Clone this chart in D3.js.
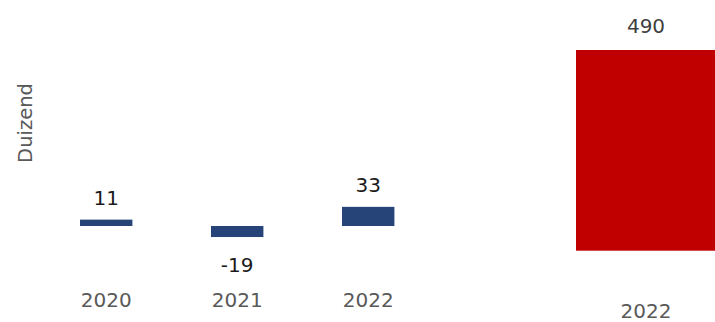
<!DOCTYPE html>
<html><head><meta charset="utf-8">
<script src="https://cdn.jsdelivr.net/npm/d3@7"></script>
<style>html,body{margin:0;padding:0;background:#fff;}svg{display:block;font-family:"DejaVu Sans",Verdana,sans-serif;}</style>
</head><body>
<script>
const yearsLeft = ["2020", "2021", "2022"];
const valuesLeft = [11, -19, 33];
const yearsRight = ["2022"];
const valuesRight = [490];
const axisTitle = "Duizend";

const W = 715, H = 322;
const svg = d3.select("body").append("svg").attr("width", W).attr("height", H);

// Left panel
const xL = d3.scaleBand().domain(yearsLeft).range([40.7, 433.7]).paddingInner(0.6).paddingOuter(0.3);
const yL = d3.scaleLinear().domain([-50, 50]).range([255, 197]);
const gL = svg.append("g");
gL.selectAll("rect").data(yearsLeft).join("rect")
  .attr("x", d => xL(d)).attr("width", xL.bandwidth())
  .attr("y", (d, i) => yL(Math.max(0, valuesLeft[i])))
  .attr("height", (d, i) => Math.abs(yL(valuesLeft[i]) - yL(0)))
  .attr("fill", "#264478");
gL.selectAll("text.val").data(yearsLeft).join("text").attr("class", "val")
  .attr("x", d => xL(d) + xL.bandwidth() / 2)
  .attr("y", (d, i) => valuesLeft[i] >= 0 ? yL(valuesLeft[i]) - 15 : yL(valuesLeft[i]) + 35)
  .attr("text-anchor", "middle").attr("font-size", 20).attr("fill", "#1a1a1a")
  .text((d, i) => valuesLeft[i]);
const axL = d3.axisBottom(xL).tickSize(0).tickPadding(0);
const gAxL = svg.append("g").attr("transform", "translate(0,293)").call(axL);
gAxL.select(".domain").remove();
gAxL.selectAll("text").attr("font-size", 20).attr("fill", "#595959").attr("font-family", "DejaVu Sans, Verdana, sans-serif");

// Right panel
const xR = d3.scaleBand().domain(yearsRight).range([547.6, 746.4]).paddingInner(0).paddingOuter(0.2);
const yR = d3.scaleLinear().domain([0, 490]).range([250.7, 50]);
const gR = svg.append("g");
gR.selectAll("rect").data(yearsRight).join("rect")
  .attr("x", d => xR(d)).attr("width", xR.bandwidth())
  .attr("y", (d, i) => yR(valuesRight[i]))
  .attr("height", (d, i) => yR(0) - yR(valuesRight[i]))
  .attr("fill", "#C00000");
gR.selectAll("text.val").data(yearsRight).join("text").attr("class", "val")
  .attr("x", d => xR(d) + xR.bandwidth() / 2 - 1)
  .attr("y", (d, i) => yR(valuesRight[i]) - 17)
  .attr("text-anchor", "middle").attr("font-size", 20).attr("fill", "#404040")
  .text((d, i) => valuesRight[i]);
const axR = d3.axisBottom(xR).tickSize(0).tickPadding(0);
const gAxR = svg.append("g").attr("transform", "translate(-1,304)").call(axR);
gAxR.select(".domain").remove();
gAxR.selectAll("text").attr("font-size", 20).attr("fill", "#595959").attr("font-family", "DejaVu Sans, Verdana, sans-serif");

// Axis title
svg.append("text").attr("transform", "translate(32,123) rotate(-90)")
  .attr("text-anchor", "middle").attr("font-size", 19.5).attr("fill", "#595959")
  .text(axisTitle);
</script>
</body></html>
